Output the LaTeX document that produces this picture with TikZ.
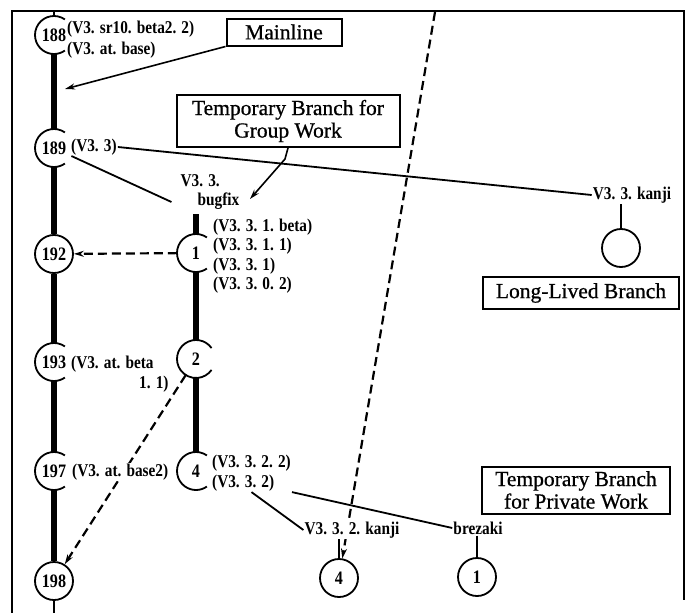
\documentclass[tikz,border=0pt]{standalone}
\usepackage{fontspec}
\setmainfont{Liberation Serif}
\newfontfamily\revfont[FakeStretch=0.85]{Liberation Serif}
\newfontfamily\notefont[FakeBold=0.8]{Liberation Serif}
\usetikzlibrary{arrows.meta,backgrounds}

\begin{document}
\begin{tikzpicture}[x=1pt, y=-1pt,
  flow/.style={-{Stealth[length=10pt,width=6pt]}, line width=1.6pt},
  merge/.style={-{Stealth[length=10pt,width=6pt]}, line width=2.2pt, dash pattern=on 9pt off 5pt},
  trunk/.style={line width=5.5pt},
  stem/.style={line width=2pt},
  link/.style={line width=1.8pt},
  ring/.style={line width=1.8pt},
  rev/.style={circle, minimum size=38pt, inner sep=0pt, font=\revfont\bfseries\fontsize{19}{21}\selectfont},
  closedrev/.style={rev, draw, line width=1.8pt},
  tag/.style={inner sep=1pt, align=left, font=\revfont\bfseries\fontsize{18}{19.5}\selectfont},
  note/.style={draw, line width=2pt, align=center, inner sep=2pt, font=\notefont\fontsize{21.5}{22.5}\selectfont}
]
\useasboundingbox (0,0) rectangle (688,613);
\draw[line width=1.8pt] (12,613) -- (12,11) -- (684,11) -- (684,600);

\node[rev] (m188) at (54,35) {188};
\node[rev] (m189) at (54,148) {189};
\node[closedrev] (m192) at (54,254) {192};
\node[rev] (m193) at (54,362) {193};
\node[rev] (m197) at (54,471) {197};
\node[closedrev] (m198) at (54,581) {198};
\node[rev] (b1) at (196,253) {1};
\node[rev] (b2) at (196,359) {2};
\node[rev] (b4) at (196,471) {4};

\node[tag, anchor=west] (t188) at (66,39.5) {(V3. sr10. beta2. 2)\\[1pt](V3. at. base)};
\node[tag, anchor=west] (t189) at (70,147) {(V3. 3)};
\node[tag] (bugfix) at (210,192) {V3. 3.\\\hspace*{17pt}bugfix};
\node[tag, anchor=west] (t1) at (212,256) {(V3. 3. 1. beta)\\(V3. 3. 1. 1)\\(V3. 3. 1)\\(V3. 3. 0. 2)};
\node[tag, anchor=west] (t193) at (70,374) {(V3. at. beta\\[1pt]\hspace*{68pt}1. 1)};
\node[tag, anchor=west, fill=white] (t197) at (71,472) {(V3. at. base2)};
\node[tag, anchor=west] (t4) at (211,473) {(V3. 3. 2. 2)\\(V3. 3. 2)};
\node[tag] (kanji33) at (632,195) {V3. 3. kanji};
\node[closedrev] (kring) at (621,248) {};
\node[tag, fill=white] (kanji332) at (352,530) {V3. 3. 2. kanji};
\node[closedrev] (k4) at (339,578) {4};
\node[tag] (brezaki) at (478,528) {brezaki};
\node[closedrev] (p1) at (477,577) {1};

\node[note, minimum width=115pt, minimum height=27pt] (mainbox) at (284,32) {Mainline};
\node[note, minimum width=223pt, minimum height=52pt] (groupbox) at (288,121) {Temporary Branch for\\Group Work};
\node[note, minimum width=196pt, minimum height=32pt] (longbox) at (581,293) {Long-Lived Branch};
\node[note, minimum width=188pt, minimum height=47pt] (privbox) at (576,490) {Temporary Branch\\for Private Work};

\coordinate (mtop) at (54,11);
\coordinate (mbot) at (54,613);
\coordinate (mtip) at (65,89);
\coordinate (btop) at (196,214);
\coordinate (gtip) at (250,199);
\coordinate (dtop) at (435,12);

\foreach \n in {m188,m189,m193,m197,b1,b4}
  \draw[ring] ([shift={(55:19pt)}]\n.center) arc[start angle=55, end angle=305, radius=19pt];
\draw[ring] ([shift={(35:19pt)}]b2.center) arc[start angle=35, end angle=325, radius=19pt];

\draw[stem] (mtop) -- (m188);
\draw[trunk] (m188) -- (m189) -- (m192) -- (m193) -- (m197) -- (m198);
\draw[stem] (m198) -- (mbot);
\draw[trunk] (btop) -- (b1) -- (b2) -- (b4);

\draw[flow] (mainbox.south west) -- (mtip);
\draw[flow] (groupbox.south) -- ++(-3,11) -- (gtip);
\draw[link] (m189) -- ([shift={(-8pt,-10pt)}]bugfix.west);
\draw[link] (t189.east) -- (kanji33.west);
\draw[link] (kanji33.south -| kring) -- (kring);
\draw[merge] (b1) -- (m192);
\draw[link] (t4.south east) -- (brezaki.west);
\draw[link] (t4.south) -- (kanji332.west);
\draw[link] (kanji332.south -| k4) -- (k4);
\draw[link] (brezaki.south -| p1) -- (p1);
\begin{scope}[on background layer]
  \draw[merge] (b2) -- (m198);
  \draw[merge] (dtop) -- (k4);
\end{scope}
\end{tikzpicture}
\end{document}
